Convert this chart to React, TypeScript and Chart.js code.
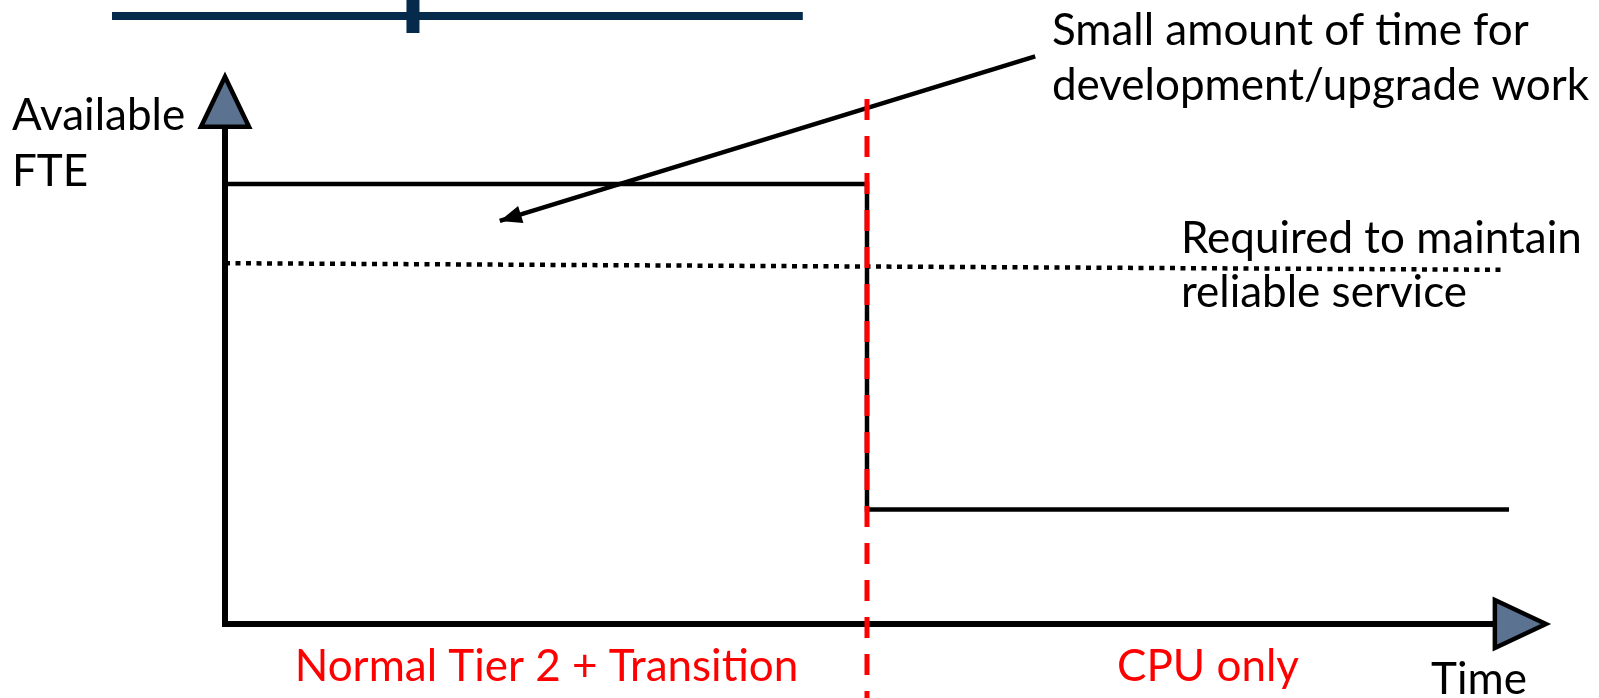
import React, { useEffect, useRef } from "react";
import { Chart, registerables } from "chart.js";

Chart.register(...registerables);

// ---- data (time units on x, FTE units on y) ----
const availableTime = [0, 5, 5, 10];
const availableFTE = [10, 10, 2.6, 2.6];
const requiredTime = [0, 9.94];
const requiredFTE = [8.2, 8.05];
const axisTime = [0, 0, 9.89];
const axisFTE = [11.3, 0, 0];
const transitionTime = [5, 5];
const transitionFTE = [11.93, -1.7];
const calloutTime = [6.31, 2.14];
const calloutFTE = [12.9, 9.16];
const bannerTime = [-0.88, 4.5];
const bannerFTE = [13.82, 13.82];
const bannerTickTime = [1.464, 1.464];
const bannerTickFTE = [14.25, 13.43];

const yAxisTitle = ["Available", "FTE"];
const xAxisTitle = "Time";
const phaseLabels = ["Normal Tier 2 + Transition", "CPU only"];
const phaseLabelTime = [2.504, 7.656];
const calloutText = ["Small amount of time for", "development/upgrade work"];
const requiredText = ["Required to maintain", "reliable service"];

const X_MIN = -1.7523;
const X_MAX = 10.701;
const Y_MIN = -1.6818;
const Y_MAX = 14.1818;

const FONT = "44px Lato";
const pts = (xs: number[], ys: number[]) => xs.map((v, i) => ({ x: v, y: ys[i] }));

const overlayPlugin = {
  id: "overlay",
  afterDatasetsDraw(chart: any) {
    const { ctx } = chart;
    const xs = chart.scales.x;
    const ys = chart.scales.y;
    const px = (v: number) => xs.getPixelForValue(v);
    const py = (v: number) => ys.getPixelForValue(v);

    const head = (
      bx: number, by: number, dx: number, dy: number,
      len: number, half: number, fill: string, stroke: string | null, lw: number
    ) => {
      const m = Math.hypot(dx, dy);
      const ux = dx / m, uy = dy / m;
      const nx = -uy, ny = ux;
      ctx.save();
      ctx.beginPath();
      ctx.moveTo(bx + nx * half, by + ny * half);
      ctx.lineTo(bx + ux * len, by + uy * len);
      ctx.lineTo(bx - nx * half, by - ny * half);
      ctx.closePath();
      ctx.fillStyle = fill;
      ctx.fill();
      if (stroke) {
        ctx.lineJoin = "miter";
        ctx.miterLimit = 10;
        ctx.lineWidth = lw;
        ctx.strokeStyle = stroke;
        ctx.stroke();
      }
      ctx.restore();
    };

    // axis arrowheads
    const yTopX = px(axisTime[0]), yTopY = py(axisFTE[0]);
    const yPrevX = px(axisTime[1]), yPrevY = py(axisFTE[1]);
    head(yTopX, yTopY, yTopX - yPrevX, yTopY - yPrevY, 50, 24, "#5b7290", "#000", 4.5);
    const n = axisTime.length;
    const xEndX = px(axisTime[n - 1]), xEndY = py(axisFTE[n - 1]);
    const xPrevX = px(axisTime[n - 2]), xPrevY = py(axisFTE[n - 2]);
    head(xEndX, xEndY, xEndX - xPrevX, xEndY - xPrevY, 51, 24, "#5b7290", "#000", 4.5);

    // callout arrowhead (tip at end point)
    const cx1 = px(calloutTime[1]), cy1 = py(calloutFTE[1]);
    const cx0 = px(calloutTime[0]), cy0 = py(calloutFTE[0]);
    const m = Math.hypot(cx1 - cx0, cy1 - cy0);
    const L = 22;
    head(cx1 - ((cx1 - cx0) / m) * L, cy1 - ((cy1 - cy0) / m) * L, cx1 - cx0, cy1 - cy0, L, 9, "#000", null, 0);

    // texts
    ctx.save();
    ctx.font = FONT;
    ctx.textBaseline = "alphabetic";
    ctx.fillStyle = "#000";
    ctx.textAlign = "left";
    ctx.fillText(yAxisTitle[0], px(-1.659), py(11.23));
    ctx.fillText(yAxisTitle[1], px(-1.659), py(9.95));
    ctx.fillText(calloutText[0], px(6.44), py(13.16));
    ctx.fillText(calloutText[1], px(6.44), py(11.91));
    ctx.fillText(requiredText[0], px(7.445), py(8.43));
    ctx.fillText(requiredText[1], px(7.445), py(7.20));
    ctx.fillText(xAxisTitle, px(9.393), py(-1.59));
    ctx.fillStyle = "#ff0000";
    ctx.textAlign = "center";
    phaseLabels.forEach((t, i) => ctx.fillText(t, px(phaseLabelTime[i]), py(-1.295)));
    ctx.restore();
  },
};

export default function App() {
  const ref = useRef<HTMLCanvasElement | null>(null);
  useEffect(() => {
    document.body.style.margin = "0";
    if (!ref.current) return;
    const line = (data: any, color: string, width: number, order: number, dash: number[] = []) => ({
      data,
      borderColor: color,
      backgroundColor: color,
      borderWidth: width,
      borderDash: dash,
      showLine: true,
      pointRadius: 0,
      pointHoverRadius: 0,
      tension: 0,
      fill: false,
      order,
      borderJoinStyle: "miter",
      borderCapStyle: "butt",
      clip: false,
    });
    const chart = new Chart(ref.current, {
      type: "scatter",
      data: {
        datasets: [
          line(pts(transitionTime, transitionFTE), "#ff0000", 5, 0, [21, 16]),
          line(pts(calloutTime, calloutFTE), "#000", 4.5, 1),
          line(pts(availableTime, availableFTE), "#000", 4.5, 2),
          line(pts(requiredTime, requiredFTE), "#000", 4.5, 3, [5, 5.5]),
          line(pts(axisTime, axisFTE), "#000", 6, 4),
          line(pts(bannerTime, bannerFTE), "#062a4c", 8, 5),
          line(pts(bannerTickTime, bannerTickFTE), "#062a4c", 13, 6),
        ] as any,
      },
      options: {
        animation: false,
        responsive: true,
        maintainAspectRatio: false,
        layout: { padding: 0 },
        events: [],
        plugins: { legend: { display: false }, tooltip: { enabled: false } },
        scales: {
          x: { type: "linear", display: false, min: X_MIN, max: X_MAX },
          y: { type: "linear", display: false, min: Y_MIN, max: Y_MAX },
        },
      },
      plugins: [overlayPlugin],
    });
    return () => chart.destroy();
  }, []);
  return (
    <div style={{ position: "relative", width: 1599, height: 698 }}>
      <canvas ref={ref} />
    </div>
  );
}
